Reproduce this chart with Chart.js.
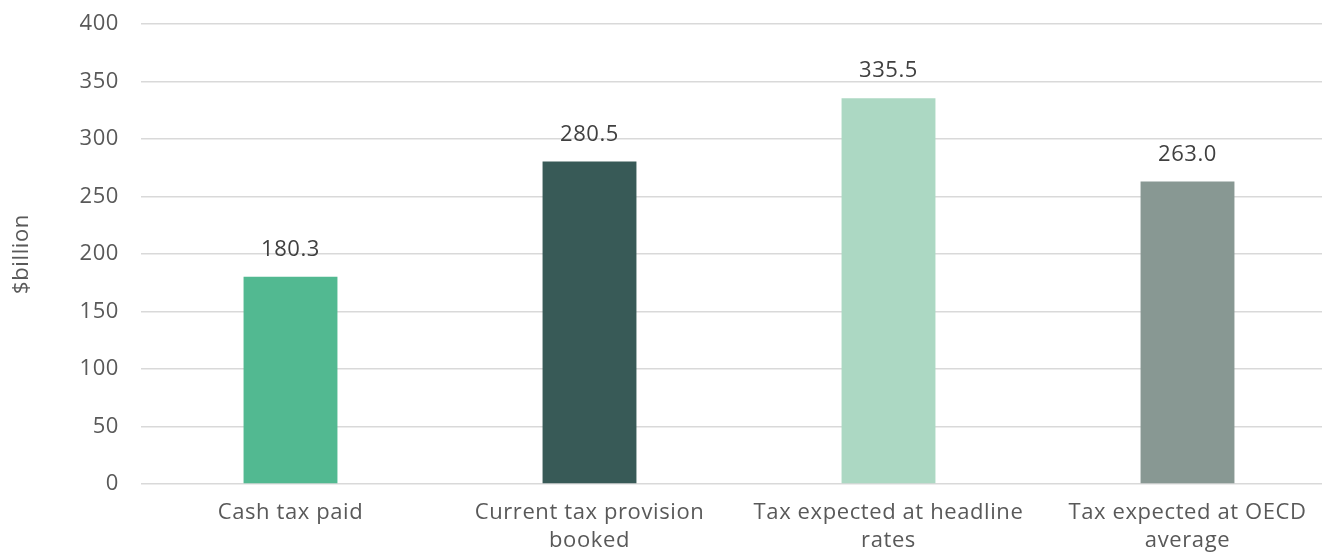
<html>

<head>
    <script src="https://cdn.jsdelivr.net/npm/chart.js@4"></script>
    <style>
        body { margin: 0; overflow: hidden; background: #fff; }
        #wrap { width: 1337px; height: 552px; }
    </style>
</head>

<body>
    <div id="wrap"><canvas id="myChart"></canvas></div>
</body>
<script>
    var categories = [
        "Cash tax paid",
        ["Current tax provision", "booked"],
        ["Tax expected at headline", "rates"],
        ["Tax expected at OECD", "average"]
    ];
    var values = [180.3, 280.5, 335.5, 263.0];
    var barColors = ["#52b991", "#385a57", "#acd8c3", "#889893"];
    var yTicks = [0, 50, 100, 150, 200, 250, 300, 350, 400];

    var textFont = "'Open Sans', sans-serif";
    var spacing = "0.6px";

    // wider letters, like the original
    var letterSpace = {
        id: "letterSpace",
        beforeUpdate: function (chart) { chart.ctx.letterSpacing = spacing; },
        beforeDraw: function (chart) { chart.ctx.letterSpacing = spacing; }
    };

    // values above each bar
    var valueLabels = {
        id: "valueLabels",
        afterDatasetsDraw: function (chart) {
            var ctx = chart.ctx;
            var meta = chart.getDatasetMeta(0);
            ctx.save();
            ctx.font = "22px " + textFont;
            ctx.fillStyle = "#404040";
            ctx.textAlign = "center";
            ctx.textBaseline = "middle";
            meta.data.forEach(function (bar, i) {
                ctx.fillText(values[i].toFixed(1), bar.x, bar.y - 27);
            });
            ctx.restore();
        }
    };

    var ctx = document.getElementById("myChart").getContext("2d");
    var chart = new Chart(ctx, {
        type: "bar",
        data: {
            labels: categories,
            datasets: [{
                data: values,
                backgroundColor: barColors,
                borderWidth: 0,
                barPercentage: 1,
                categoryPercentage: 0.314
            }]
        },
        options: {
            animation: false,
            responsive: true,
            maintainAspectRatio: false,
            devicePixelRatio: 1,
            layout: { padding: { top: 24, bottom: 0, right: 0 } },
            plugins: {
                legend: { display: false },
                tooltip: { enabled: false }
            },
            scales: {
                x: {
                    afterFit: function (scale) { scale.height = 68; },
                    grid: { display: false, drawTicks: false },
                    border: { display: false },
                    ticks: {
                        color: "#595959",
                        font: { family: textFont, size: 22, lineHeight: "28px" },
                        padding: 15,
                        maxRotation: 0,
                        autoSkip: false
                    }
                },
                y: {
                    min: 0,
                    max: 400,
                    afterFit: function (scale) {
                        scale.width = 141;
                        scale.paddingTop = 0;
                        scale.paddingBottom = 0;
                    },
                    afterBuildTicks: function (scale) {
                        scale.ticks = yTicks.map(function (v) { return { value: v }; });
                    },
                    grid: { color: "#d9d9d9", lineWidth: 1.5, drawTicks: false },
                    border: { display: false },
                    ticks: {
                        color: "#595959",
                        font: { family: textFont, size: 22 },
                        padding: 22
                    },
                    title: {
                        display: true,
                        text: "$billion",
                        color: "#595959",
                        font: { family: textFont, size: 22 },
                        padding: { top: 9, bottom: 0 }
                    }
                }
            }
        },
        plugins: [letterSpace, valueLabels]
    });
</script>

</html>
